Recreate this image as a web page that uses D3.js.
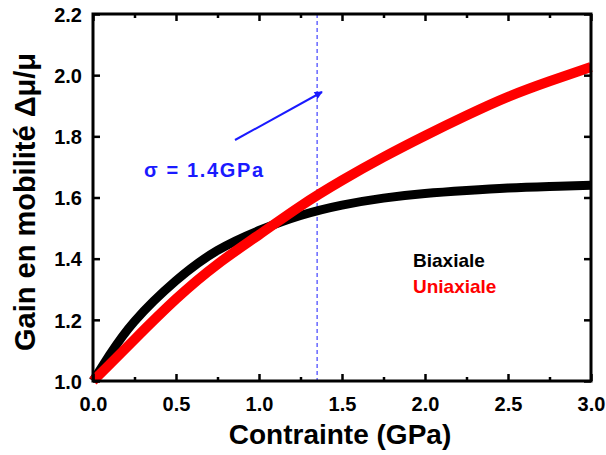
<!DOCTYPE html>
<html>
<head>
<meta charset="utf-8">
<script src="https://cdn.jsdelivr.net/npm/d3@7"></script>
<style>
  html, body { margin: 0; padding: 0; background: #fff; }
  svg { display: block; }
  text { font-family: "Liberation Sans", Arial, sans-serif; font-weight: bold; }
</style>
</head>
<body>
<svg id="chart" width="606" height="455"></svg>
<script>
// ---- data ----
const stress = [0, 0.1, 0.25, 0.5, 0.75, 1.0, 1.25, 1.5, 1.75, 2.0, 2.25, 2.5, 2.75, 3.0];
const biaxiale = [1.0, 1.085, 1.195, 1.328, 1.427, 1.492, 1.541, 1.575, 1.598, 1.613, 1.623, 1.631, 1.636, 1.640];
const uniaxiale = [1.0, 1.054, 1.136, 1.268, 1.382, 1.478, 1.572, 1.656, 1.732, 1.802, 1.868, 1.929, 1.980, 2.027];
const xTicks = [0, 0.5, 1.0, 1.5, 2.0, 2.5, 3.0];
const xMinorTicks = [0.25, 0.75, 1.25, 1.75, 2.25, 2.75];
const yTicks = [1.0, 1.2, 1.4, 1.6, 1.8, 2.0, 2.2];
const markerStress = [1.35];
const seriesNames = ["Biaxiale", "Uniaxiale"];
const seriesColors = ["#000000", "#ff0000"];
const annotation = "\u03c3 = 1.4GPa";

// ---- layout ----
const svg = d3.select("#chart");
const L = 93, R = 591, T = 14, B = 381;
const x = d3.scaleLinear().domain([0, 3]).range([L, R]);
const y = d3.scaleLinear().domain([1.0, 2.2]).range([B, T]);

const line = d3.line().x(d => x(d[0])).y(d => y(d[1])).curve(d3.curveNatural);
const dataB = stress.map((s, i) => [s, biaxiale[i]]);
const dataU = stress.map((s, i) => [s, uniaxiale[i]]);

// dashed marker line
svg.append("line")
  .attr("x1", x(markerStress[0])).attr("x2", x(markerStress[0]))
  .attr("y1", T).attr("y2", B)
  .attr("stroke", "#1a1aff").attr("stroke-width", 1)
  .attr("stroke-dasharray", "4,3");

svg.append("path").datum(dataB).attr("d", line)
  .attr("fill", "none").attr("stroke", seriesColors[0]).attr("stroke-width", 9);
svg.append("path").datum(dataU).attr("d", line)
  .attr("fill", "none").attr("stroke", seriesColors[1]).attr("stroke-width", 10);

function addAxis(axisGen, tx, ty) {
  const g = svg.append("g").attr("transform", `translate(${tx},${ty})`).call(axisGen);
  g.select(".domain").remove();
  g.selectAll(".tick line").attr("stroke", "#000").attr("stroke-width", 2.5);
  g.selectAll(".tick text").attr("fill", "#000").style("font-size", "20px")
    .style("font-family", "'Liberation Sans', Arial, sans-serif").style("font-weight", "bold");
  return g;
}
addAxis(d3.axisBottom(x).tickValues(xTicks).tickFormat(d3.format(".1f")).tickSizeInner(-7).tickSizeOuter(0).tickPadding(16), 0, B);
addAxis(d3.axisBottom(x).tickValues(xMinorTicks).tickFormat("").tickSizeInner(-4).tickSizeOuter(0), 0, B);
addAxis(d3.axisTop(x).tickValues(xTicks).tickFormat("").tickSizeInner(-7).tickSizeOuter(0), 0, T);
addAxis(d3.axisTop(x).tickValues(xMinorTicks).tickFormat("").tickSizeInner(-4).tickSizeOuter(0), 0, T);
const gl = addAxis(d3.axisLeft(y).tickValues(yTicks).tickFormat(d3.format(".1f")).tickSizeInner(-7).tickSizeOuter(0).tickPadding(11), L, 0);
gl.selectAll(".tick text").attr("dy", "0.36em");
addAxis(d3.axisRight(y).tickValues(yTicks).tickFormat("").tickSizeInner(-7).tickSizeOuter(0), R, 0);

svg.append("rect").attr("x", L).attr("y", T).attr("width", R - L).attr("height", B - T)
  .attr("fill", "none").attr("stroke", "#000").attr("stroke-width", 3);

// axis titles
svg.append("text").attr("x", (L + R) / 2 - 2).attr("y", 444)
  .attr("text-anchor", "middle").style("font-size", "28px").attr("fill", "#000")
  .text("Contrainte (GPa)");
svg.append("text").attr("transform", "translate(35,202) rotate(-90)")
  .attr("text-anchor", "middle").style("font-size", "29px").attr("fill", "#000")
  .text("Gain en mobilit\u00e9 \u0394\u03bc/\u03bc");

// legend
svg.append("text").attr("x", 413).attr("y", 267).style("font-size", "19px")
  .attr("fill", seriesColors[0]).text(seriesNames[0]);
svg.append("text").attr("x", 413).attr("y", 293).style("font-size", "19px")
  .attr("fill", seriesColors[1]).text(seriesNames[1]);

// annotation
svg.append("defs").append("marker").attr("id", "arr")
  .attr("viewBox", "0 0 10 10").attr("refX", 9).attr("refY", 5)
  .attr("markerWidth", 5.5).attr("markerHeight", 4).attr("orient", "auto")
  .attr("markerUnits", "strokeWidth")
  .append("path").attr("d", "M0,0 L10,5 L0,10 z").attr("fill", "#1a1aff");
svg.append("line").attr("x1", 235).attr("y1", 140).attr("x2", 322).attr("y2", 92)
  .attr("stroke", "#1a1aff").attr("stroke-width", 2).attr("marker-end", "url(#arr)");
svg.append("text").attr("x", 144).attr("y", 177).style("font-size", "20px")
  .attr("fill", "#1a1aff").attr("textLength", 119).attr("lengthAdjust", "spacing")
  .text(annotation);
</script>
</body>
</html>
